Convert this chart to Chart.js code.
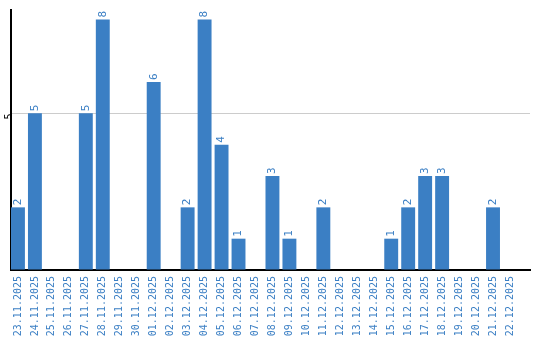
<!DOCTYPE html>
<html>
<head>
<meta charset="utf-8">
<script src="https://cdn.jsdelivr.net/npm/chart.js@4"></script>
<style>
  html, body { margin: 0; padding: 0; background: #fff; }
  #wrap { width: 540px; height: 340px; }
</style>
</head>
<body>
<div id="wrap"><canvas id="grafico"></canvas></div>
<script>
const fechas = ['23.11.2025','24.11.2025','25.11.2025','26.11.2025','27.11.2025','28.11.2025','29.11.2025','30.11.2025',
  '01.12.2025','02.12.2025','03.12.2025','04.12.2025','05.12.2025','06.12.2025','07.12.2025','08.12.2025',
  '09.12.2025','10.12.2025','11.12.2025','12.12.2025','13.12.2025','14.12.2025','15.12.2025','16.12.2025',
  '17.12.2025','18.12.2025','19.12.2025','20.12.2025','21.12.2025','22.12.2025'];
const valores = [2,5,0,0,5,8,0,0,6,0,2,8,4,1,0,3,1,0,2,0,0,0,1,2,3,3,0,0,2,0];
const ticksY = [0, 5];

const azul = '#3b7fc4';
const fuente = 'DejaVu Sans Mono';

// etiquetas de valor giradas encima de cada barra
const etiquetasValor = {
  id: 'etiquetasValor',
  afterDatasetsDraw(chart) {
    const ctx = chart.ctx;
    const meta = chart.getDatasetMeta(0);
    ctx.save();
    ctx.fillStyle = azul;
    ctx.font = '11px "' + fuente + '"';
    ctx.textAlign = 'left';
    ctx.textBaseline = 'middle';
    meta.data.forEach((bar, i) => {
      const v = valores[i];
      if (!v) return;
      ctx.save();
      ctx.translate(bar.x, bar.y - 2);
      ctx.rotate(-Math.PI / 2);
      ctx.fillText(String(v), 0, 0);
      ctx.restore();
    });
    ctx.restore();
  }
};

new Chart(document.getElementById('grafico'), {
  type: 'bar',
  data: {
    datasets: [{
      data: valores.map((v, i) => ({ x: i, y: v })),
      backgroundColor: azul,
      barPercentage: 0.82,
      categoryPercentage: 1
    }]
  },
  options: {
    responsive: true,
    maintainAspectRatio: false,
    animation: false,
    layout: { padding: { top: 10, right: 10, left: 0, bottom: 0 } },
    plugins: { legend: { display: false }, tooltip: { enabled: false } },
    scales: {
      x: {
        type: 'linear',
        offset: false,
        min: -0.41,
        max: 30.18,
        afterBuildTicks: axis => { axis.ticks = fechas.map((f, i) => ({ value: i })); },
        afterFit: axis => { axis.height = 70; },
        grid: { display: false, drawTicks: false },
        border: { color: '#000', width: 2 },
        ticks: {
          color: azul,
          font: { family: fuente, size: 10 },
          minRotation: 90,
          maxRotation: 90,
          autoSkip: false,
          padding: 6,
          callback: v => fechas[v]
        }
      },
      y: {
        min: 0,
        max: 8.3,
        afterBuildTicks: axis => { axis.ticks = ticksY.map(v => ({ value: v })); },
        afterFit: axis => { axis.width = 11; },
        grid: { color: ctx => ctx.tick && ctx.tick.value === 5 ? '#cccccc' : 'rgba(0,0,0,0)', drawTicks: false },
        border: { color: '#000', width: 2 },
        ticks: {
          color: '#000',
          font: { family: fuente, size: 10 },
          minRotation: 90,
          maxRotation: 90,
          padding: 2,
          callback: v => v === 5 ? '5' : ''
        }
      }
    }
  },
  plugins: [etiquetasValor]
});
</script>
</body>
</html>
